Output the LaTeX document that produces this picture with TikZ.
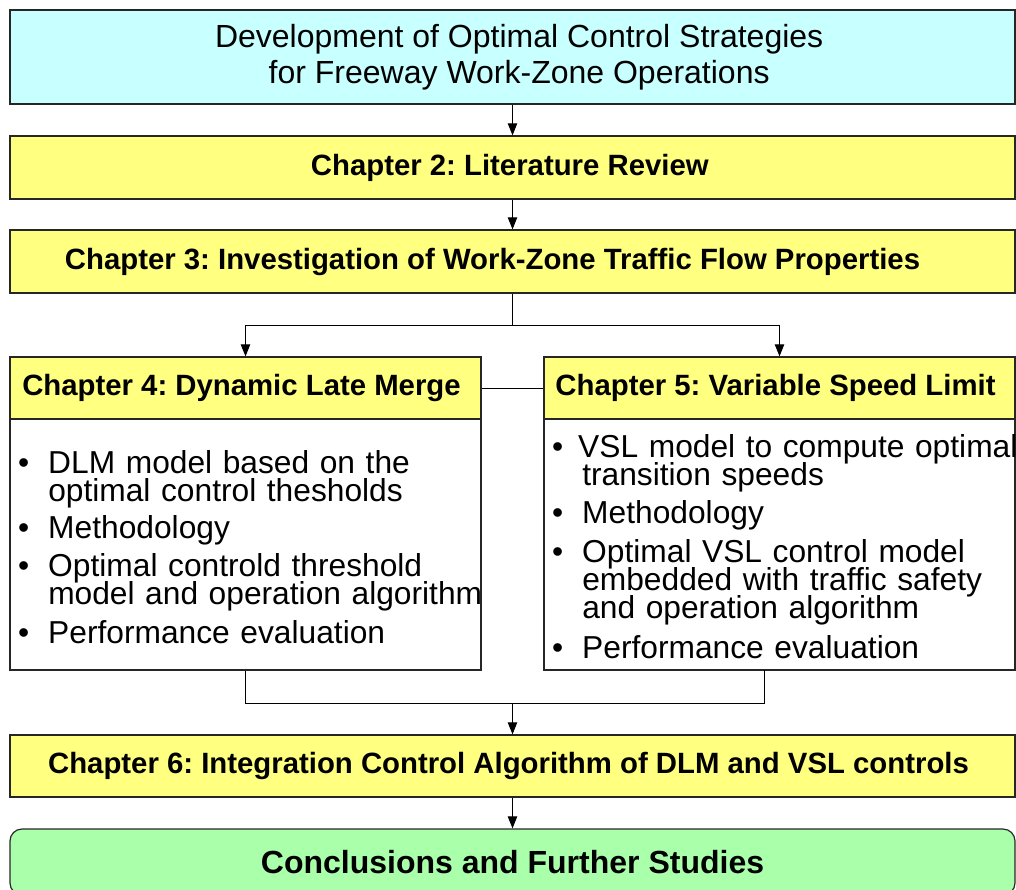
\documentclass[tikz,border=0pt]{standalone}
\usepackage{fontspec}
\setmainfont{Liberation Sans}
\usetikzlibrary{arrows.meta,calc}

\definecolor{titlecyan}{HTML}{C8FFFF}
\definecolor{chapyellow}{HTML}{FFFF80}
\definecolor{endgreen}{HTML}{AAFFAA}

% bullet hung to the left of the item text
\newcommand{\bul}{\leavevmode\llap{•\hspace{14.3pt}}}
% fixed baseline distance inside the bullet lists
\newcommand{\tightlines}{\lineskiplimit=-100pt\lineskip=0pt\relax}

\begin{document}
\frenchspacing
\begin{tikzpicture}[x=0.75pt,y=-0.75pt,
  box/.style={draw=black!85,line width=0.9pt,inner sep=0pt},
  fullbox/.style={box,minimum width=753.75pt},
  halfbox/.style={box,minimum width=353.25pt},
  chap/.style={font=\fontsize{22}{26}\selectfont\bfseries,fill=chapyellow},
  bodytext/.style={anchor=base west,inner sep=0pt,text width=340pt,align=left,
    font=\fontsize{23.8}{21.2}\selectfont},
  arr/.style={line width=0.75pt,-{Triangle[length=9pt,width=7pt]}},
  link/.style={line width=0.75pt}]

\useasboundingbox (0,0) rectangle (1016,889);
\clip (0,0) rectangle (1016,889);

% title
\node[fullbox,minimum height=70.5pt,fill=titlecyan,align=center,
  font=\fontsize{24}{27}\selectfont] (title) at (512.5,57)
  {\hspace*{10pt}Development of Optimal Control Strategies\\\hspace*{10pt}for Freeway Work-Zone Operations};

% chapters 2 and 3
\node[fullbox,chap,minimum height=47.25pt] (ch2) at (512.5,167.5)
  {Chapter 2: Literature Review\hspace*{4pt}};
\node[fullbox,chap,minimum height=47.25pt] (ch3) at (512.5,261.5)
  {Chapter 3: Investigation of Work-Zone Traffic Flow Properties\hspace*{30pt}};

% chapters 4 and 5: headers
\node[halfbox,chap,minimum height=46.5pt] (ch4h) at (245.5,388)
  {\raisebox{3pt}{Chapter 4: Dynamic Late Merge}\hspace*{6pt}};
\node[halfbox,chap,minimum height=46.5pt] (ch5h) at (779.5,388)
  {\raisebox{3pt}{Chapter 5: Variable Speed Limit}\hspace*{6pt}};

% chapters 4 and 5: contents
\node[halfbox,fill=white,minimum height=188.25pt] (ch4b) at (245.5,544.5) {};
\node[halfbox,fill=white,minimum height=188.25pt] (ch5b) at (779.5,544.5) {};

\node[bodytext] (list4) at (48,473)
  {\tightlines
   \bul DLM model based on the\\
   optimal control thesholds\\[6.6pt]
   \bul Methodology\\[7.2pt]
   \bul Optimal controld threshold\\
   model and operation algorithm\\[6.4pt]
   \bul Performance evaluation};
\node[bodytext] (list5) at (582,457.5)
  {\tightlines
   \bul\hspace*{-3pt}VSL model to compute optimal\\
   transition speeds\\[7.3pt]
   \bul Methodology\\[7.6pt]
   \bul Optimal VSL control model\\
   embedded with traffic safety\\
   and operation algorithm\\[6.6pt]
   \bul Performance evaluation};

% chapter 6 and conclusions
\node[fullbox,chap,minimum height=46.5pt] (ch6) at (512.5,766)
  {Chapter 6: Integration Control Algorithm of DLM and VSL controls\hspace*{6pt}};
\node[fullbox,fill=endgreen,rounded corners=9pt,minimum height=49.5pt,
  font=\fontsize{24}{28}\selectfont\bfseries] (concl) at (512.5,862)
  {Conclusions and Further Studies};

% connectors
\coordinate (split) at (512.5,325);
\coordinate (merge) at (512.5,703);
\coordinate (from5) at (764,670);

\draw[arr] (title) -- (ch2);
\draw[arr] (ch2) -- (ch3);
\draw[link] (ch3.south) -- (split);
\draw[arr] (split) -| (ch4h.north);
\draw[arr] (split) -| (ch5h.north);
\draw[link] (ch4h.east) -- (ch5h.west);
\draw[link] (ch4b.south) |- (merge);
\draw[link] (from5) |- (merge);
\draw[arr] (merge) -- (ch6);
\draw[arr] (ch6) -- (concl);
\end{tikzpicture}
\end{document}
